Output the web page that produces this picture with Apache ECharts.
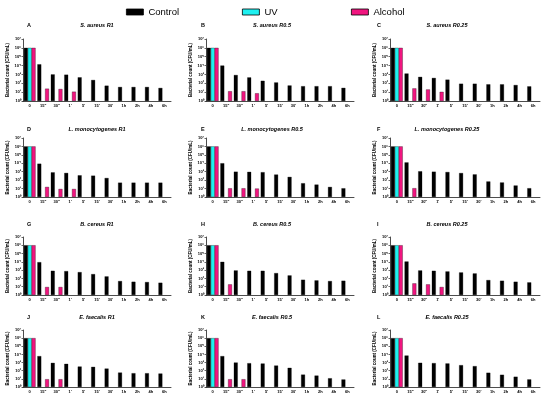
<!DOCTYPE html>
<html><head><meta charset="utf-8">
<script src="https://cdn.jsdelivr.net/npm/echarts@6/dist/echarts.min.js"></script>
<style>html,body{margin:0;padding:0;background:#fff}#c{width:550px;height:399px}</style>
</head><body><div id="c"></div>
<script>
// Time categories
const categories = ['0', '15"', '30"', "1'", "5'", "15'", "30'", '1h', '2h', '4h', '6h'];
// Panel letters and titles
const panelLetters = ['A','B','C','D','E','F','G','H','I','J','K','L'];
const panelTitles = ['S. aureus R1','S. aureus R0.5','S. aureus R0.25',
  'L. monocytogenes R1','L. monocytogenes R0.5','L. monocytogenes R0.25',
  'B. cereus R1','B. cereus R0.5','B. cereus R0.25',
  'E. faecalis R1','E. faecalis R0.5','E. faecalis R0.25'];
// Values read as log10(CFU/mL); null = no bar
const controlA = [6, 4.14, 3.0, 2.97, 2.67, 2.37, 1.73, 1.58, 1.58, 1.58, 1.47];
const uvA      = [6, null, null, null, null, null, null, null, null, null, null];
const alcoholA = [6, 1.39, 1.35, 1.05, null, null, null, null, null, null, null];
const controlB = [6, 4.0, 2.93, 2.66, 2.28, 2.09, 1.75, 1.67, 1.67, 1.67, 1.48];
const uvB      = [6, null, null, null, null, null, null, null, null, null, null];
const alcoholB = [6, 1.1, 1.1, 0.87, null, null, null, null, null, null, null];
const controlC = [6, 3.1, 2.72, 2.6, 2.41, 1.95, 1.95, 1.88, 1.88, 1.8, 1.65];
const uvC      = [6, null, null, null, null, null, null, null, null, null, null];
const alcoholC = [6, 1.42, 1.3, 1.03, null, null, null, null, null, null, null];
const controlD = [6, 3.95, 2.92, 2.85, 2.57, 2.53, 2.25, 1.7, 1.7, 1.7, 1.7];
const uvD      = [6, null, null, null, null, null, null, null, null, null, null];
const alcoholD = [6, 1.19, 0.95, 0.95, null, null, null, null, null, null, null];
const controlE = [6, 4.0, 3.0, 2.98, 2.94, 2.66, 2.38, 1.63, 1.47, 1.19, 1.03];
const uvE      = [6, null, null, null, null, null, null, null, null, null, null];
const alcoholE = [6, 1.03, 1.03, 1.0, null, null, null, null, null, null, null];
const controlF = [6, 4.1, 3.05, 3.0, 2.96, 2.84, 2.68, 1.84, 1.72, 1.36, 1.04];
const uvF      = [6, null, null, null, null, null, null, null, null, null, null];
const alcoholF = [6, 1.04, null, null, null, null, null, null, null, null, null];
const controlG = [6, 3.96, 2.92, 2.88, 2.76, 2.52, 2.24, 1.68, 1.6, 1.56, 1.48];
const uvG      = [6, null, null, null, null, null, null, null, null, null, null];
const alcoholG = [6, 0.96, 0.96, null, null, null, null, null, null, null, null];
const controlH = [6, 4.0, 2.96, 2.92, 2.92, 2.64, 2.36, 1.84, 1.76, 1.68, 1.72];
const uvH      = [6, null, null, null, null, null, null, null, null, null, null];
const alcoholH = [6, 1.28, null, null, null, null, null, null, null, null, null];
const controlI = [6, 4.04, 2.96, 2.92, 2.84, 2.72, 2.6, 1.8, 1.72, 1.6, 1.52];
const uvI      = [6, null, null, null, null, null, null, null, null, null, null];
const alcoholI = [6, 1.4, 1.28, 0.96, null, null, null, null, null, null, null];
const controlJ = [6, 3.79, 2.96, 2.84, 2.51, 2.47, 2.26, 1.77, 1.69, 1.69, 1.65];
const uvJ      = [6, null, null, null, null, null, null, null, null, null, null];
const alcoholJ = [6, 0.95, 0.95, null, null, null, null, null, null, null, null];
const controlK = [6, 3.79, 3.0, 2.92, 2.88, 2.63, 2.35, 1.52, 1.4, 1.07, 0.92];
const uvK      = [6, null, null, null, null, null, null, null, null, null, null];
const alcoholK = [6, 0.95, 0.95, null, null, null, null, null, null, null, null];
const controlL = [6, 3.86, 2.97, 2.93, 2.89, 2.68, 2.56, 1.75, 1.5, 1.26, 0.93];
const uvL      = [6, null, null, null, null, null, null, null, null, null, null];
const alcoholL = [6, null, null, null, null, null, null, null, null, null, null];
const yTickExponents = [0,1,2,3,4,5,6,7];

const controls = [controlA,controlB,controlC,controlD,controlE,controlF,controlG,controlH,controlI,controlJ,controlK,controlL];
const uvs = [uvA,uvB,uvC,uvD,uvE,uvF,uvG,uvH,uvI,uvJ,uvK,uvL];
const alcohols = [alcoholA,alcoholB,alcoholC,alcoholD,alcoholE,alcoholF,alcoholG,alcoholH,alcoholI,alcoholJ,alcoholK,alcoholL];

const colLeft = [23, 206, 390], colWidth = [148, 148, 150];
const rowTop = [39, 138, 237, 330], rowHeight = [62, 59, 58, 57];
const titleY = [17, 121, 216, 309];
const letterX = [22, 196, 372], titleCX = [92, 267, 442];
const sup = {'0':'⁰','1':'¹','2':'²','3':'³','4':'⁴','5':'⁵','6':'⁶','7':'⁷','8':'⁸','9':'⁹'};
const FONT = 'Liberation Sans, Arial, sans-serif';
const toVal = v => v == null ? '-' : Math.pow(10, v);

const grids = [], xAxes = [], yAxes = [], series = [], titles = [];
for (let p = 0; p < 12; p++) {
  const r = Math.floor(p / 3), c = p % 3;
  grids.push({left: colLeft[c], top: rowTop[r], width: colWidth[c], height: rowHeight[r], containLabel: false});
  xAxes.push({type: 'category', gridIndex: p, data: categories,
    axisLine: {lineStyle: {color: '#000', width: 0.7}},
    axisTick: {alignWithLabel: true, length: 2, lineStyle: {color: '#000', width: 0.6}},
    axisLabel: {interval: 0, fontSize: 4, color: '#000', margin: 3, fontWeight: 'bold', fontFamily: FONT}});
  yAxes.push({type: 'log', logBase: 10, gridIndex: p, min: 1, max: 1e7, interval: 1,
    name: 'Bacterial count (CFU/mL)', nameLocation: 'middle', nameGap: 13, nameRotate: 90,
    nameTextStyle: {fontSize: 4.5, color: '#000', fontFamily: FONT, fontWeight: 'bold'},
    axisLine: {show: true, lineStyle: {color: '#000', width: 0.7}},
    axisTick: {show: true, length: 1.5, lineStyle: {color: '#000', width: 0.6}},
    splitLine: {show: false},
    axisLabel: {fontSize: 4, color: '#000', margin: 2, fontWeight: 'bold', fontFamily: FONT,
      formatter: v => '10' + String(Math.round(Math.log10(v))).split('').map(d => sup[d]).join('')}});
  const common = {type: 'bar', xAxisIndex: p, yAxisIndex: p, barGap: '0%', barCategoryGap: '14%'};
  series.push(Object.assign({name: 'Control', data: controls[p].map(toVal),
    itemStyle: {color: '#000', borderColor: '#000', borderWidth: 0.3}}, common));
  series.push(Object.assign({name: 'UV', data: uvs[p].map(toVal),
    itemStyle: {color: '#1ef0f0', borderColor: '#000', borderWidth: 0.3}}, common));
  series.push(Object.assign({name: 'Alcohol', data: alcohols[p].map(toVal),
    itemStyle: {color: '#f0157f', borderColor: '#000', borderWidth: 0.3}}, common));
  titles.push({text: panelLetters[p], left: letterX[c], top: titleY[r],
    textStyle: {fontSize: 5.5, fontWeight: 'bold', color: '#000', fontFamily: FONT}});
  titles.push({text: panelTitles[p], left: titleCX[c], top: titleY[r], textAlign: 'center',
    textStyle: {fontSize: 5.5, fontWeight: 'bold', fontStyle: 'italic', color: '#000', fontFamily: FONT}});
}

const legendBase = {top: 2, itemWidth: 17, itemHeight: 6, itemGap: 6, icon: 'rect',
  itemStyle: {borderColor: '#000', borderWidth: 0.8},
  textStyle: {fontSize: 9.5, color: '#000', fontFamily: FONT}};
const chart = echarts.init(document.getElementById('c'), null, {renderer: 'canvas'});
chart.setOption({
  animation: false,
  backgroundColor: '#fff',
  title: titles,
  legend: [
    Object.assign({data: ['Control'], left: 121}, legendBase),
    Object.assign({data: ['UV'], left: 237}, legendBase),
    Object.assign({data: ['Alcohol'], left: 346}, legendBase)
  ],
  grid: grids, xAxis: xAxes, yAxis: yAxes, series: series
});
</script></body></html>
